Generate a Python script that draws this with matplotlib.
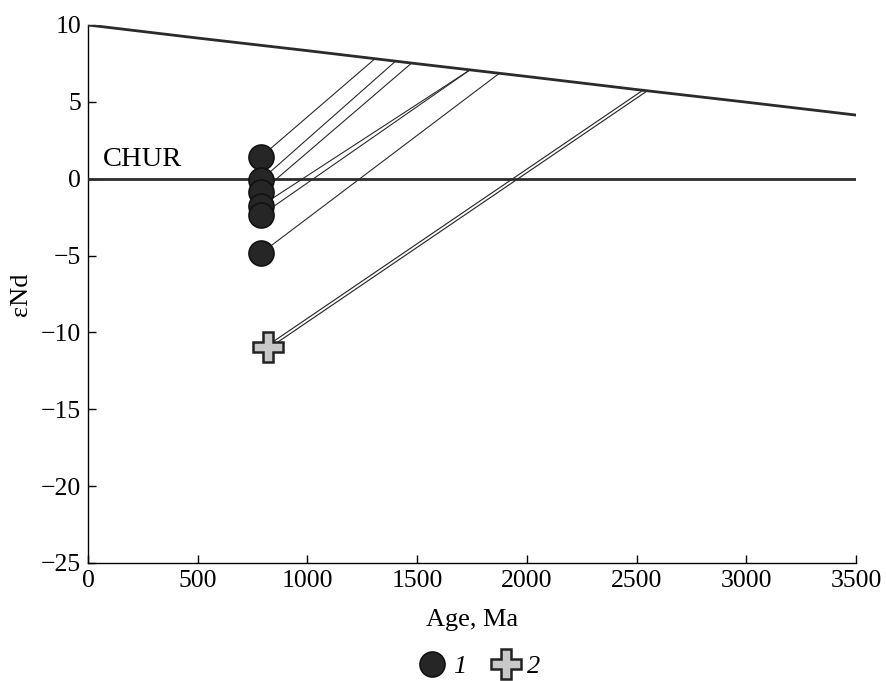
import numpy as np
import matplotlib
matplotlib.use("Agg")
import matplotlib.pyplot as plt
from matplotlib.lines import Line2D

plt.rcParams['font.family'] = ['Liberation Serif', 'DejaVu Serif']

# Depleted mantle evolution curve
dm_age = [0, 500, 1000, 1500, 2000, 2500, 3000, 3500]
dm_eps = [10.0, 9.15, 8.33, 7.48, 6.65, 5.80, 4.98, 4.14]

# Group 1 samples (circles)
g1_age = [789, 789, 789, 789, 789, 789]
g1_eps = [1.43, -0.08, -0.87, -1.76, -2.37, -4.85]
g1_tdm = [1308, 1402, 1475, 1741, 1741, 1875]

# Group 2 sample (cross)
g2_age = [822]
g2_eps = [-10.93]
g2_tdm = [2539]

fig = plt.figure(figsize=(8.86, 6.81), dpi=100)
ax = fig.add_axes([0.0993, 0.1733, 0.8668, 0.79])

dark = '#2b2b2b'
ax.plot(dm_age, dm_eps, color=dark, lw=2.0, zorder=3)
ax.axhline(0, color=dark, lw=2.0, zorder=3)
ax.text(66, 0.45, 'CHUR', fontsize=20.5, ha='left', va='bottom')

for a, e, t in zip(g1_age, g1_eps, g1_tdm):
    ax.plot([a, t], [e, np.interp(t, dm_age, dm_eps)], color=dark, lw=0.8, zorder=2)
for a, e, t in zip(g2_age, g2_eps, g2_tdm):
    xs = [a, t]; ys = [e, np.interp(t, dm_age, dm_eps)]
    ax.plot(xs, ys, color=dark, lw=3.0, zorder=2, solid_capstyle='butt')
    ax.plot(xs, ys, color='white', lw=1.3, zorder=2.1, solid_capstyle='butt')

ax.plot(g1_age, g1_eps, 'o', ms=18, mfc='#262626', mec='#111111', mew=1.2, ls='none', zorder=4)
ax.plot(g2_age, g2_eps, 'P', ms=21, mfc='#c8c8c8', mec='#222222', mew=1.8, ls='none', zorder=4)

ax.set_xlim(0, 3500)
ax.set_ylim(-25, 10)
ax.set_xticks(np.arange(0, 3501, 500))
ax.set_yticks(np.arange(-25, 11, 5))
ax.set_yticklabels(['\u221225', '\u221220', '\u221215', '\u221210', '\u22125', '0', '5', '10'])
ax.tick_params(direction='in', length=6, width=1, labelsize=18.5, pad=5)
for s in ['top', 'right']:
    ax.spines[s].set_visible(False)
for s in ['left', 'bottom']:
    ax.spines[s].set_linewidth(1.0)
ax.set_xlabel('Age, Ma', fontsize=19, labelpad=12)
ax.set_ylabel('\u03b5Nd', fontsize=19, labelpad=6)

handles = [
    Line2D([], [], marker='o', ms=18, mfc='#262626', mec='#111111', mew=1.2, ls='none'),
    Line2D([], [], marker='P', ms=21, mfc='#c8c8c8', mec='#222222', mew=1.8, ls='none'),
]
fig.legend(handles, ['1', '2'], loc='center', bbox_to_anchor=(0.54, 0.022), ncol=2,
           frameon=False, prop={'style': 'italic', 'size': 19}, handletextpad=0.2,
           columnspacing=0.9, handlelength=1.2, borderpad=0)

fig.savefig('out.png', dpi=100)
